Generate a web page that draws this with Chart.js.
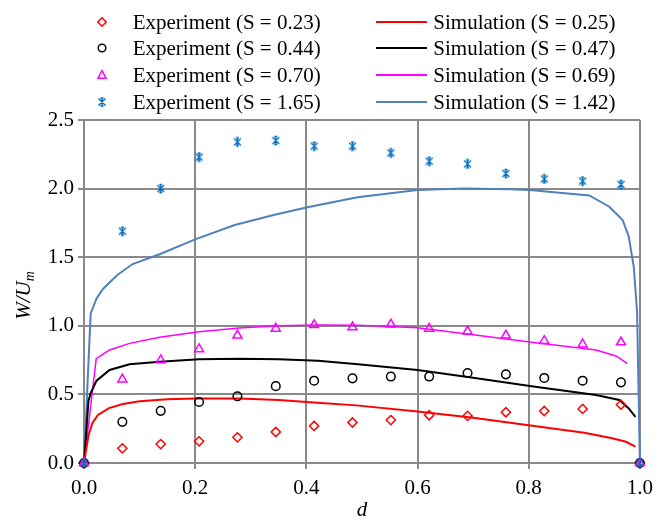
<!DOCTYPE html>
<html>
<head>
<meta charset="utf-8">
<script src="https://cdn.jsdelivr.net/npm/chart.js@4.4.1/dist/chart.umd.min.js"></script>
<style>
  body { margin: 0; background: #fff; }
  #wrap { position: relative; width: 660px; height: 521px; font-family: "Liberation Serif", "Times New Roman", serif; }
  #chart { position: absolute; left: 0; top: 0; }
  .lg-text { position: absolute; font-size: 21px; line-height: 26px; white-space: nowrap; color: #000; }
  .lg-icon { position: absolute; }
</style>
</head>
<body>
<div id="wrap">
  <canvas id="chart" width="660" height="521"></canvas>
  <div id="legend"></div>
</div>
<script>
// measured positions across the channel (d) for the experiments
const expD = [0, 0.069, 0.138, 0.207, 0.276, 0.345, 0.414, 0.483, 0.552, 0.621, 0.690, 0.759, 0.828, 0.897, 0.966, 1.0];

const expS023 = [0, 0.107, 0.138, 0.158, 0.187, 0.226, 0.270, 0.295, 0.313, 0.348, 0.343, 0.370, 0.379, 0.394, 0.425, 0];
const expS044 = [0, 0.300, 0.380, 0.445, 0.486, 0.560, 0.600, 0.617, 0.630, 0.630, 0.656, 0.646, 0.620, 0.600, 0.588, 0];
const expS070 = [0, 0.610, 0.750, 0.830, 0.930, 0.980, 1.006, 0.990, 1.010, 0.980, 0.960, 0.930, 0.890, 0.865, 0.880, 0];
const expS165 = [0, 1.690, 2.000, 2.230, 2.340, 2.350, 2.310, 2.310, 2.260, 2.200, 2.180, 2.110, 2.070, 2.055, 2.030, 0];

// simulation profiles
const simS025D = [0, 0.008, 0.015, 0.025, 0.045, 0.07, 0.10, 0.15, 0.20, 0.28, 0.35, 0.42, 0.49, 0.60, 0.70, 0.80, 0.90, 0.95, 0.975, 0.992];
const simS025W = [0, 0.20, 0.29, 0.35, 0.40, 0.43, 0.45, 0.465, 0.47, 0.47, 0.46, 0.44, 0.42, 0.375, 0.33, 0.275, 0.22, 0.18, 0.155, 0.12];

const simS047D = [0, 0.008, 0.012, 0.0226, 0.046, 0.082, 0.136, 0.207, 0.279, 0.35, 0.421, 0.493, 0.60, 0.70, 0.802, 0.921, 0.963, 0.98, 0.992];
const simS047W = [0, 0.45, 0.51, 0.60, 0.678, 0.72, 0.738, 0.756, 0.76, 0.756, 0.746, 0.72, 0.678, 0.622, 0.561, 0.496, 0.459, 0.398, 0.337];

const simS069D = [0, 0.022, 0.046, 0.082, 0.136, 0.207, 0.279, 0.35, 0.421, 0.493, 0.60, 0.70, 0.802, 0.921, 0.957, 0.977];
const simS069W = [0, 0.76, 0.824, 0.872, 0.916, 0.957, 0.984, 1.0, 1.005, 1.004, 0.986, 0.934, 0.882, 0.824, 0.78, 0.727];

const simS142D = [0, 0.012, 0.0226, 0.0345, 0.06, 0.0875, 0.135, 0.20, 0.271, 0.343, 0.402, 0.492, 0.60, 0.683, 0.767, 0.802, 0.909, 0.945, 0.969, 0.98, 0.989, 0.995, 1.0];
const simS142W = [0, 1.09, 1.20, 1.27, 1.37, 1.45, 1.52, 1.63, 1.735, 1.81, 1.864, 1.937, 1.99, 2.0, 1.995, 1.99, 1.95, 1.868, 1.771, 1.65, 1.43, 1.10, 0];

const expLabels = ["Experiment (S = 0.23)", "Experiment (S = 0.44)", "Experiment (S = 0.70)", "Experiment (S = 1.65)"];
const simLabels = ["Simulation (S = 0.25)", "Simulation (S = 0.47)", "Simulation (S = 0.69)", "Simulation (S = 1.42)"];

const xTicks = [0, 0.2, 0.4, 0.6, 0.8, 1.0];
const yTicks = [0, 0.5, 1.0, 1.5, 2.0, 2.5];

const expColors = ["#ff0000", "#000000", "#ff00ff", "#0070c0"];
const simColors = ["#ff0000", "#000000", "#ff00ff", "#4f81bd"];

const toPoints = (xs, ys) => xs.map((x, i) => ({ x: x, y: ys[i] }));

// asterisk path, same for chart marker and legend icon (11x11 box)
const asteriskPath = "M5.5,1.5V9.5M2,2L9,9M2,9L9,2M4,1.5H7M4,9.5H7";

function asteriskMarker(color) {
    const c = document.createElement("canvas");
    c.width = 11;
    c.height = 11;
    const g = c.getContext("2d");
    g.strokeStyle = color;
    g.lineWidth = 1.4;
    g.stroke(new Path2D(asteriskPath));
    return c;
}

const expYs = [expS023, expS044, expS070, expS165];
const expStyles = ["rectRot", "circle", "triangle", asteriskMarker(expColors[3])];
const expRadius = [4.6, 4.3, 5.2, 5];

const simXs = [simS025D, simS047D, simS069D, simS142D];
const simYs = [simS025W, simS047W, simS069W, simS142W];
const simWidths = [2, 2, 1.5, 2];

const datasets = [];
expYs.forEach((ys, i) => {
    datasets.push({
        label: expLabels[i],
        data: toPoints(expD, ys),
        showLine: false,
        pointStyle: expStyles[i],
        pointRadius: expRadius[i],
        pointBorderColor: expColors[i],
        pointBackgroundColor: "rgba(0,0,0,0)",
        pointBorderWidth: 1.5,
        clip: false,
        order: 3 - i,
    });
});
simYs.forEach((ys, i) => {
    datasets.push({
        label: simLabels[i],
        data: toPoints(simXs[i], ys),
        showLine: true,
        borderColor: simColors[i],
        borderWidth: simWidths[i],
        pointRadius: 0,
        tension: 0,
        fill: false,
        clip: false,
        order: 10 + i,
    });
});

const gridColor = "#898989";

const yTitle = {
    id: "yTitle",
    afterDraw(chart) {
        const { ctx, chartArea } = chart;
        const cy = (chartArea.top + chartArea.bottom) / 2 + 4;
        ctx.save();
        ctx.translate(24, cy);
        ctx.rotate(-Math.PI / 2);
        ctx.fillStyle = "#000";
        ctx.textBaseline = "middle";
        ctx.textAlign = "left";
        ctx.font = 'italic 21px "Liberation Serif"';
        const w1 = ctx.measureText("W/U").width;
        ctx.font = 'italic 14px "Liberation Serif"';
        const w2 = ctx.measureText("m").width;
        const x0 = -(w1 + w2) / 2;
        ctx.font = 'italic 21px "Liberation Serif"';
        ctx.fillText("W/U", x0, 0);
        ctx.font = 'italic 14px "Liberation Serif"';
        ctx.fillText("m", x0 + w1, 6);
        ctx.restore();
    },
};

Chart.defaults.font.family = '"Liberation Serif", "Times New Roman", serif';
Chart.defaults.font.size = 21;
Chart.defaults.color = "#000";

const chart = new Chart(document.getElementById("chart").getContext("2d"), {
    type: "scatter",
    data: { datasets: datasets },
    options: {
        responsive: false,
        animation: false,
        layout: { padding: { top: 120, right: 16, left: 0, bottom: 0 } },
        plugins: {
            legend: { display: false },
            tooltip: { enabled: false },
        },
        scales: {
            x: {
                type: "linear",
                min: 0,
                max: 1,
                afterBuildTicks: (scale) => { scale.ticks = xTicks.map((v) => ({ value: v })); },
                afterFit: (scale) => { scale.height = 58; },
                ticks: { padding: 7, callback: (v) => Number(v).toFixed(1) },
                grid: { color: gridColor, lineWidth: 2, tickLength: 6, tickColor: gridColor },
                border: { color: gridColor, width: 2 },
                title: { display: true, text: "d", font: { style: "italic", size: 21, lineHeight: 1 }, padding: { top: 0, bottom: 0 } },
            },
            y: {
                type: "linear",
                min: 0,
                max: 2.5,
                afterBuildTicks: (scale) => { scale.ticks = yTicks.map((v) => ({ value: v })); },
                afterFit: (scale) => { scale.width = 84; },
                ticks: { padding: 4, callback: (v) => Number(v).toFixed(1) },
                grid: { color: gridColor, lineWidth: 2, tickLength: 6, tickColor: gridColor },
                border: { color: gridColor, width: 2 },
            },
        },
    },
    plugins: [yTitle],
});

// legend in two columns: markers on the left, lines on the right
function markerSvg(style, color) {
    const ns = "http://www.w3.org/2000/svg";
    const svg = document.createElementNS(ns, "svg");
    svg.setAttribute("width", "14");
    svg.setAttribute("height", "14");
    let shape;
    if (style === "rectRot") {
        shape = document.createElementNS(ns, "polygon");
        shape.setAttribute("points", "7,2.8 11.2,7 7,11.2 2.8,7");
    } else if (style === "circle") {
        shape = document.createElementNS(ns, "circle");
        shape.setAttribute("cx", "7");
        shape.setAttribute("cy", "7");
        shape.setAttribute("r", "3.8");
    } else if (style === "triangle") {
        shape = document.createElementNS(ns, "polygon");
        shape.setAttribute("points", "7,2.6 11,10.2 3,10.2");
    } else {
        shape = document.createElementNS(ns, "path");
        shape.setAttribute("d", asteriskPath);
        shape.setAttribute("transform", "translate(1.5,1.5)");
    }
    shape.setAttribute("fill", "none");
    shape.setAttribute("stroke", color);
    shape.setAttribute("stroke-width", style === "star" ? "1.4" : "1.5");
    svg.appendChild(shape);
    return svg;
}

const legend = document.getElementById("legend");
const rowY = (r) => 21.7 + r * 26.7;
expLabels.forEach((text, r) => {
    const icon = markerSvg(typeof expStyles[r] === "string" ? expStyles[r] : "star", expColors[r]);
    icon.setAttribute("class", "lg-icon");
    icon.style.left = (101.7 - 7) + "px";
    icon.style.top = (rowY(r) - 7) + "px";
    legend.appendChild(icon);
    const t = document.createElement("div");
    t.className = "lg-text";
    t.textContent = text;
    t.style.left = "132.7px";
    t.style.top = (rowY(r) - 13.2) + "px";
    legend.appendChild(t);
});
simLabels.forEach((text, r) => {
    const line = document.createElement("div");
    line.className = "lg-icon";
    line.style.left = "375.7px";
    line.style.width = "51.6px";
    line.style.top = (rowY(r) - simWidths[r] / 2) + "px";
    line.style.height = simWidths[r] + "px";
    line.style.background = simColors[r];
    legend.appendChild(line);
    const t = document.createElement("div");
    t.className = "lg-text";
    t.textContent = text;
    t.style.left = "433.3px";
    t.style.top = (rowY(r) - 13.2) + "px";
    legend.appendChild(t);
});
</script>
</body>
</html>
